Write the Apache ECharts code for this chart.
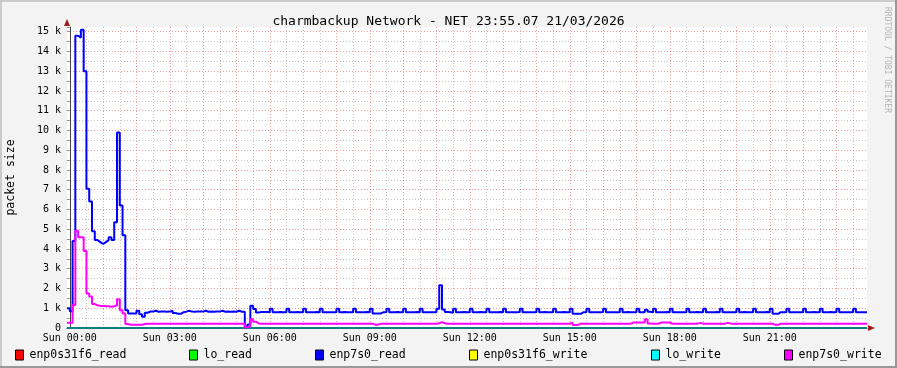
<!DOCTYPE html>
<html><head><meta charset="utf-8">
<script src="https://cdn.jsdelivr.net/npm/echarts@6/dist/echarts.min.js"></script>
<style>html,body{margin:0;padding:0;background:#f3f3f3}#c{width:897px;height:368px}</style>
</head><body><div id="c"></div>
<script>
const chartTitle = 'charmbackup Network - NET 23:55.07 21/03/2026';
const yAxisName = 'packet size';
const watermark = 'RRDTOOL / TOBI OETIKER';
const seriesNames = ['enp0s31f6_read','lo_read','enp7s0_read','enp0s31f6_write','lo_write','enp7s0_write'];
const seriesColors = ['#ff0000','#00ff00','#0000ff','#ffff00','#00ffff','#ff00ff'];
// sample grid: 5-minute steps starting 23:55 Sat (minutes relative to Sun 00:00)
const firstSampleMin = -5;
const stepMin = 5;
const xLabelMinutes = [0,180,360,540,720,900,1080,1260];
const xLabelTexts = ['Sun 00:00','Sun 03:00','Sun 06:00','Sun 09:00','Sun 12:00','Sun 15:00','Sun 18:00','Sun 21:00'];
const yLabelValues = [0,1000,2000,3000,4000,5000,6000,7000,8000,9000,10000,11000,12000,13000,14000,15000];
const yLabelTexts = ['0','1 k','2 k','3 k','4 k','5 k','6 k','7 k','8 k','9 k','10 k','11 k','12 k','13 k','14 k','15 k'];

const enp0s31f6_read = [
0,0,0,0,0,0,0,0,0,0,0,0,0,0,0,0,0,0,0,0,0,0,0,0,0,0,0,0,0,0,0,0,0,0,0,0,0,0,0,0,0,0,0,0,0,0,0,0,
0,0,0,0,0,0,0,0,0,0,0,0,0,0,0,0,0,0,0,0,0,0,0,0,0,0,0,0,0,0,0,0,0,0,0,0,0,0,0,0,0,0,0,0,0,0,0,0,
0,0,0,0,0,0,0,0,0,0,0,0,0,0,0,0,0,0,0,0,0,0,0,0,0,0,0,0,0,0,0,0,0,0,0,0,0,0,0,0,0,0,0,0,0,0,0,0,
0,0,0,0,0,0,0,0,0,0,0,0,0,0,0,0,0,0,0,0,0,0,0,0,0,0,0,0,0,0,0,0,0,0,0,0,0,0,0,0,0,0,0,0,0,0,0,0,
0,0,0,0,0,0,0,0,0,0,0,0,0,0,0,0,0,0,0,0,0,0,0,0,0,0,0,0,0,0,0,0,0,0,0,0,0,0,0,0,0,0,0,0,0,0,0,0,
0,0,0,0,0,0,0,0,0,0,0,0,0,0,0,0,0,0,0,0,0,0,0,0,0,0,0,0,0,0,0,0,0,0,0,0,0,0,0,0,0,0,0,0,0,0,0,0];
const lo_read = [
0,0,0,0,0,0,0,0,0,0,0,0,0,0,0,0,0,0,0,0,0,0,0,0,0,0,0,0,0,0,0,0,0,0,0,0,0,0,0,0,0,0,0,0,0,0,0,0,
0,0,0,0,0,0,0,0,0,0,0,0,0,0,0,0,0,0,0,0,0,0,0,0,0,0,0,0,0,0,0,0,0,0,0,0,0,0,0,0,0,0,0,0,0,0,0,0,
0,0,0,0,0,0,0,0,0,0,0,0,0,0,0,0,0,0,0,0,0,0,0,0,0,0,0,0,0,0,0,0,0,0,0,0,0,0,0,0,0,0,0,0,0,0,0,0,
0,0,0,0,0,0,0,0,0,0,0,0,0,0,0,0,0,0,0,0,0,0,0,0,0,0,0,0,0,0,0,0,0,0,0,0,0,0,0,0,0,0,0,0,0,0,0,0,
0,0,0,0,0,0,0,0,0,0,0,0,0,0,0,0,0,0,0,0,0,0,0,0,0,0,0,0,0,0,0,0,0,0,0,0,0,0,0,0,0,0,0,0,0,0,0,0,
0,0,0,0,0,0,0,0,0,0,0,0,0,0,0,0,0,0,0,0,0,0,0,0,0,0,0,0,0,0,0,0,0,0,0,0,0,0,0,0,0,0,0,0,0,0,0,0];
const enp7s0_read = [
1000,850,4400,14800,14700,15100,13000,7050,6400,4900,4450,4350,
4250,4350,4450,4600,4450,5350,9900,6200,4700,900,740,740,
740,870,700,570,770,830,830,870,820,830,830,820,
830,880,760,720,720,800,830,870,830,820,830,830,
830,870,820,830,820,830,830,870,820,830,820,830,
820,870,820,820,70,180,1130,960,790,810,810,810,
800,970,800,800,810,800,800,970,800,800,810,800,
800,970,800,800,800,810,800,970,800,800,800,800,
800,970,800,810,800,800,800,970,800,800,800,810,
800,970,740,740,740,800,800,970,800,800,810,800,
800,970,800,800,800,810,800,970,800,800,800,800,
800,970,2170,940,810,800,770,970,800,800,810,800,
800,970,800,800,810,800,800,970,800,800,800,810,
800,970,800,800,800,800,810,970,800,800,800,800,
800,970,800,810,800,800,800,970,800,800,810,800,
800,970,720,720,720,800,800,970,800,800,800,800,
810,970,800,800,800,800,800,970,800,810,800,800,
800,970,800,800,930,820,800,970,800,800,800,810,
800,970,800,800,800,800,800,970,800,800,810,800,
800,970,800,800,800,810,800,970,800,800,800,800,
800,970,800,810,800,800,800,970,800,800,800,810,
800,970,720,720,800,800,800,970,800,800,800,800,
800,970,800,800,810,800,800,970,800,800,810,800,
800,970,800,800,800,800,800,970,800,800,800,800];
const enp0s31f6_write = [
0,0,0,0,0,0,0,0,0,0,0,0,0,0,0,0,0,0,0,0,0,0,0,0,0,0,0,0,0,0,0,0,0,0,0,0,0,0,0,0,0,0,0,0,0,0,0,0,
0,0,0,0,0,0,0,0,0,0,0,0,0,0,0,0,0,0,0,0,0,0,0,0,0,0,0,0,0,0,0,0,0,0,0,0,0,0,0,0,0,0,0,0,0,0,0,0,
0,0,0,0,0,0,0,0,0,0,0,0,0,0,0,0,0,0,0,0,0,0,0,0,0,0,0,0,0,0,0,0,0,0,0,0,0,0,0,0,0,0,0,0,0,0,0,0,
0,0,0,0,0,0,0,0,0,0,0,0,0,0,0,0,0,0,0,0,0,0,0,0,0,0,0,0,0,0,0,0,0,0,0,0,0,0,0,0,0,0,0,0,0,0,0,0,
0,0,0,0,0,0,0,0,0,0,0,0,0,0,0,0,0,0,0,0,0,0,0,0,0,0,0,0,0,0,0,0,0,0,0,0,0,0,0,0,0,0,0,0,0,0,0,0,
0,0,0,0,0,0,0,0,0,0,0,0,0,0,0,0,0,0,0,0,0,0,0,0,0,0,0,0,0,0,0,0,0,0,0,0,0,0,0,0,0,0,0,0,0,0,0,0];
const lo_write = [
0,0,0,0,0,0,0,0,0,0,0,0,0,0,0,0,0,0,0,0,0,0,0,0,0,0,0,0,0,0,0,0,0,0,0,0,0,0,0,0,0,0,0,0,0,0,0,0,
0,0,0,0,0,0,0,0,0,0,0,0,0,0,0,0,0,0,0,0,0,0,0,0,0,0,0,0,0,0,0,0,0,0,0,0,0,0,0,0,0,0,0,0,0,0,0,0,
0,0,0,0,0,0,0,0,0,0,0,0,0,0,0,0,0,0,0,0,0,0,0,0,0,0,0,0,0,0,0,0,0,0,0,0,0,0,0,0,0,0,0,0,0,0,0,0,
0,0,0,0,0,0,0,0,0,0,0,0,0,0,0,0,0,0,0,0,0,0,0,0,0,0,0,0,0,0,0,0,0,0,0,0,0,0,0,0,0,0,0,0,0,0,0,0,
0,0,0,0,0,0,0,0,0,0,0,0,0,0,0,0,0,0,0,0,0,0,0,0,0,0,0,0,0,0,0,0,0,0,0,0,0,0,0,0,0,0,0,0,0,0,0,0,
0,0,0,0,0,0,0,0,0,0,0,0,0,0,0,0,0,0,0,0,0,0,0,0,0,0,0,0,0,0,0,0,0,0,0,0,0,0,0,0,0,0,0,0,0,0,0,0];
const enp7s0_write = [
270,250,1160,4920,4600,4600,3900,1750,1600,1210,1150,1120,
1120,1100,1100,1080,1100,1150,1450,900,740,200,160,160,
160,160,160,200,220,220,220,220,220,220,220,220,
220,220,220,220,220,220,220,220,220,220,220,220,
220,220,220,220,220,220,220,220,220,220,220,220,
220,220,220,220,30,80,440,320,230,220,220,220,
220,220,220,220,220,220,220,220,220,220,220,220,
220,220,220,220,220,220,220,220,220,220,220,220,
220,220,220,220,220,220,220,220,220,220,220,220,
220,220,170,170,220,220,220,220,220,220,220,220,
220,220,220,220,220,220,220,220,220,220,220,220,
220,240,300,240,220,220,220,220,220,220,220,220,
220,220,220,220,220,220,220,220,220,220,220,220,
220,220,220,220,220,220,220,220,220,220,220,220,
220,220,220,220,220,220,220,220,220,220,220,220,
220,270,150,160,220,220,220,220,220,220,220,220,
220,220,220,220,220,220,220,220,220,220,220,280,
280,280,280,280,440,230,220,220,220,280,280,280,
280,220,220,220,220,220,220,220,220,220,220,260,
220,220,220,220,220,220,220,220,220,260,220,220,
220,220,220,220,220,220,220,220,220,220,220,220,
220,220,160,160,220,220,220,220,220,220,220,220,
220,220,220,220,220,220,220,220,220,220,220,220,
220,220,220,220,220,220,220,220,220,220,220,220];

const allValues = [enp0s31f6_read, lo_read, enp7s0_read, enp0s31f6_write, lo_write, enp7s0_write];
const lineColors = ['#ff0000','#00ff00','#0000ff','#ffff00','#0f7f80','#ff00ff'];
const lineWidths = [1,1,2,1,2,2];

function toPoints(vals){
  const pts = vals.map((v,i)=>[firstSampleMin + i*stepMin, v]);
  pts.push([firstSampleMin + vals.length*stepMin, vals[vals.length-1]]);
  return pts;
}
const nSteps = enp7s0_read.length;
const xMin = firstSampleMin, xMax = firstSampleMin + nSteps*stepMin;

const FONT = 'DejaVu Sans Mono';
const MAJ = 'rgba(222,80,80,0.55)', MIN = 'rgba(150,150,150,0.55)', T = 'rgba(0,0,0,0)';
const xGridColors = [T,MAJ,T,T,T,T,T,MIN,T,T,T,T];

const chart = echarts.init(document.getElementById('c'), null, {renderer:'canvas'});
const option = {
  animation:false,
  backgroundColor:'#f3f3f3',
  textStyle:{fontFamily:FONT},
  title:{text:chartTitle,left:'center',top:10,textStyle:{fontFamily:FONT,fontSize:13,fontWeight:'normal',color:'#000'}},
  grid:{left:67,right:30,top:27,bottom:40,show:true,backgroundColor:'#ffffff',borderWidth:0,containLabel:false,outerBoundsMode:'none'},
  legend: seriesNames.map((n,i)=>({
    data:[{name:n,itemStyle:{color:seriesColors[i],borderColor:'#000',borderWidth:1}}],
    left:[15,189,315,469,651,784][i], top:349, padding:0, icon:'rect', itemWidth:8, itemHeight:10,
    selectedMode:false, textStyle:{fontFamily:FONT,fontSize:11.5,color:'#000',padding:[0,0,0,1]}
  })),
  xAxis:{type:'value',min:xMin,max:xMax,interval:stepMin,
    axisLine:{show:true,onZero:false,lineStyle:{color:'#404040',width:1}},
    axisTick:{show:false},
    axisLabel:{show:true,margin:5,fontFamily:FONT,fontSize:10,color:'#000',
      formatter:v=>{const k=xLabelMinutes.indexOf(Math.round(v));return k>=0?xLabelTexts[k]:'';}},
    splitLine:{show:true,lineStyle:{color:xGridColors,type:[1,2],width:1}}
  },
  yAxis:{type:'value',min:0,max:15240,interval:500,
    name:yAxisName,nameLocation:'middle',nameGap:50,nameRotate:90,
    nameTextStyle:{fontFamily:FONT,fontSize:11.5,color:'#000'},
    axisLine:{show:true,lineStyle:{color:'#404040',width:1}},
    axisTick:{show:true,length:3,lineStyle:{color:'#909090'}},
    axisLabel:{margin:6,fontFamily:FONT,fontSize:10,color:'#000',
      formatter:v=>{const k=yLabelValues.indexOf(Math.round(v));return k>=0?yLabelTexts[k]:'';}},
    splitLine:{show:true,showMaxLine:false,lineStyle:{color:[MAJ,MIN],type:[1,2],width:1}}
  },
  series: seriesNames.map((n,i)=>({
    name:n,type:'line',step:'end',data:toPoints(allValues[i]),showSymbol:false,silent:true,
    color:seriesColors[i],
    lineStyle:{color:lineColors[i],width:lineWidths[i]},
    itemStyle:{color:seriesColors[i]}
  })),
  graphic:[
    {type:'polygon',shape:{points:[[64,26],[70,26],[67,19]]},style:{fill:'#a01c1c'},z:100},
    {type:'polygon',shape:{points:[[868,325],[868,331],[875,328]]},style:{fill:'#a01c1c'},z:100},
    {type:'text',x:887,y:60,rotation:-Math.PI/2,style:{text:watermark,fill:'#b4b4b4',font:'8px "DejaVu Sans Mono"',align:'center',verticalAlign:'middle'}},
    {type:'line',shape:{x1:0,y1:1,x2:897,y2:1},style:{stroke:'#cbcbcb',lineWidth:2}},
    {type:'line',shape:{x1:1,y1:0,x2:1,y2:368},style:{stroke:'#cbcbcb',lineWidth:2}},
    {type:'line',shape:{x1:0,y1:367,x2:897,y2:367},style:{stroke:'#999999',lineWidth:2}},
    {type:'line',shape:{x1:896,y1:0,x2:896,y2:368},style:{stroke:'#999999',lineWidth:2}}
  ]
};
chart.setOption(option);
</script></body></html>
